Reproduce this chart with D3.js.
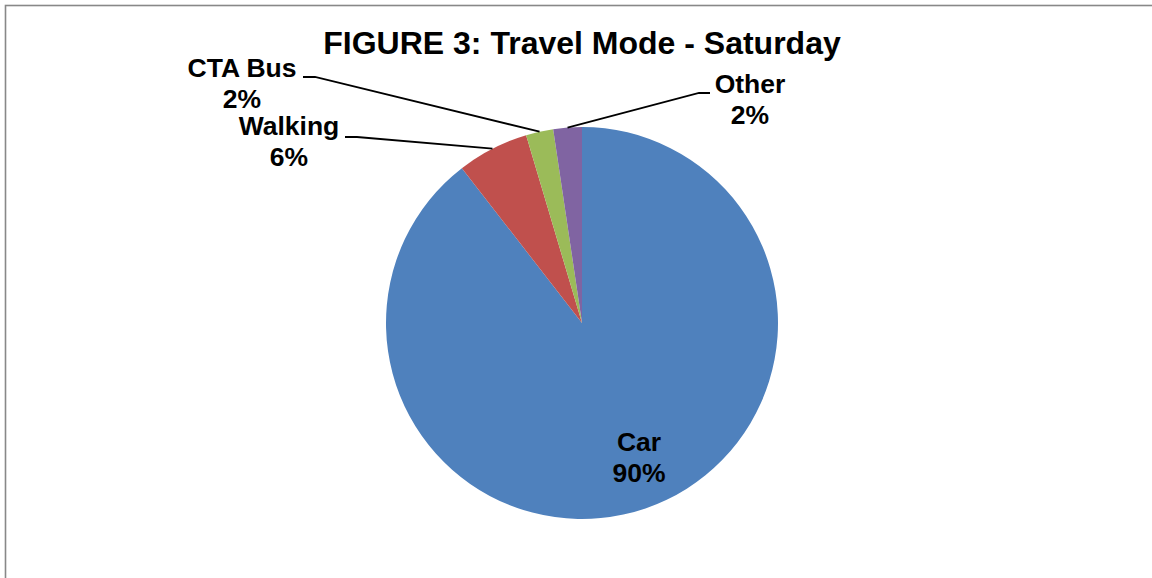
<!DOCTYPE html>
<html>
<head>
<meta charset="utf-8">
<script src="https://cdn.jsdelivr.net/npm/d3@7"></script>
<style>
  html, body { margin: 0; padding: 0; background: #fff; }
  svg { display: block; }
  text { font-family: Arial, "Liberation Sans", sans-serif; font-weight: bold; fill: #000; }
</style>
</head>
<body>
<svg id="chart" width="1152" height="578"></svg>
<script>
// ---- data ----
const title = "FIGURE 3: Travel Mode - Saturday";
const categories = ["Car", "Walking", "CTA Bus", "Other"];
const values = [89.5, 5.9, 2.25, 2.35];
const colors = ["#4F81BD", "#C0504D", "#9BBB59", "#8064A2"];

// ---- layout (positions, not data) ----
const W = 1152, H = 578;
const cx = 582, cy = 323, R = 196;
const labelLayout = {
  "Car":     { inside: true, x: 639, y: 451 },
  "Walking": { x: 289, y: 135, elbow: [[345, 137], [357, 137]] },
  "CTA Bus": { x: 242, y: 77,  elbow: [[303, 77], [315, 77]] },
  "Other":   { x: 750, y: 93,  elbow: [[710, 93], [699, 93]] }
};
const lineGap = 31;

const svg = d3.select("#chart");

svg.append("rect")
  .attr("x", 5.5).attr("y", 5.5)
  .attr("width", 1200).attr("height", 700)
  .attr("fill", "none")
  .attr("stroke", "#888")
  .attr("stroke-width", 1.6);

svg.append("text")
  .attr("x", cx).attr("y", 54)
  .attr("text-anchor", "middle")
  .style("font-size", "32px")
  .text(title);

const data = categories.map((c, i) => ({ name: c, value: values[i], color: colors[i] }));
const total = d3.sum(values);
const pct = d3.format(".0%");

const pie = d3.pie().sort(null).value(d => d.value);
const arcs = pie(data);
const arc = d3.arc().innerRadius(0).outerRadius(R);

const g = svg.append("g").attr("transform", `translate(${cx},${cy})`);
g.selectAll("path.slice")
  .data(arcs)
  .join("path")
  .attr("class", "slice")
  .attr("d", arc)
  .attr("fill", d => d.data.color);

arcs.forEach(a => {
  const L = labelLayout[a.data.name];
  if (L.inside) return;
  const mid = (a.startAngle + a.endAngle) / 2;
  const px = cx + R * Math.sin(mid), py = cy - R * Math.cos(mid);
  const pts = [[px, py], L.elbow[1], L.elbow[0]];
  svg.append("path")
    .attr("d", d3.line()(pts))
    .attr("fill", "none")
    .attr("stroke", "#000")
    .attr("stroke-width", 1.8);
});

arcs.forEach(a => {
  const L = labelLayout[a.data.name];
  const t = svg.append("text")
    .attr("text-anchor", "middle")
    .style("font-size", "26.5px");
  t.append("tspan").attr("x", L.x).attr("y", L.y).text(a.data.name);
  t.append("tspan").attr("x", L.x).attr("y", L.y + lineGap).text(pct(a.data.value / total));
});
</script>
</body>
</html>
